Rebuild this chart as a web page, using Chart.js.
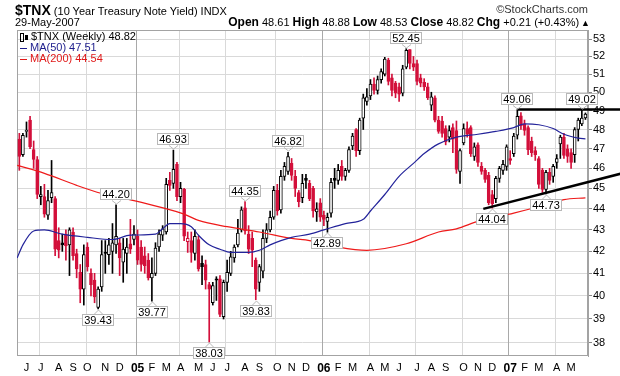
<!DOCTYPE html>
<html><head><meta charset="utf-8">
<script src="https://cdn.jsdelivr.net/npm/chart.js@4.4.1/dist/chart.umd.min.js"></script>
<style>
html,body{margin:0;padding:0;background:#fff;}
#wrap{position:relative;width:620px;height:376px;font-family:"Liberation Sans",Arial,sans-serif;color:#000;overflow:hidden;}
canvas{position:absolute;left:0;top:0;}
.t{position:absolute;white-space:nowrap;line-height:1;}
.t b{font-weight:bold;}
.ico{display:inline-block;vertical-align:middle;}
</style></head><body>
<div id="wrap">
<canvas id="c" width="620" height="376"></canvas>
<div class="t" id="title" style="left:15px;top:2px;"></div>
<div class="t" style="right:32px;top:4px;font-size:11px;color:#333;">©StockCharts.com</div>
<div class="t" id="date" style="left:15px;top:17px;font-size:11px;"></div>
<div class="t" id="ohlc" style="right:30px;top:16px;font-size:11px;"></div>
<div class="t" id="leg1" style="left:20px;top:31px;font-size:11px;"></div>
<div class="t" id="leg2" style="left:20px;top:42px;font-size:11px;color:#1d1d8c;"></div>
<div class="t" id="leg3" style="left:20px;top:53px;font-size:11px;color:#e01818;"></div>
</div>
<script>
// ---------- DATA (weekly candles, first one at the left plot edge) ----------
const opens = [47.5,46.7,47.9,48.5,46.95,46.45,44.6,44.6,43.7,44.55,44.5,42.5,42.4,42.8,42.3,42.9,41.9,41.05,40.3,42.2,
41.0,40.7,39.5,40.4,41.95,41.85,42.0,42.3,42.4,41.5,41.9,42.35,42.55,42.7,42.2,41.8,41.6,40.8,41.0,42.2,
42.75,42.9,45.4,45.25,46.2,44.6,44.95,42.45,42.5,41.9,42.55,41.45,41.4,40.5,39.7,40.75,40.75,39.1,40.6,41.0,
41.7,42.3,43.0,44.05,42.8,42.6,41.6,40.6,41.1,42.6,43.0,43.6,44.9,43.95,45.6,45.85,46.25,45.6,44.8,44.55,
45.5,45.25,45.0,43.85,44.3,43.7,43.4,43.8,45.5,45.4,46.1,45.6,45.9,47.15,48.0,46.9,48.6,49.5,49.8,50.45,
50.1,50.7,51.0,51.8,50.8,50.5,50.3,49.95,51.4,52.4,51.6,51.6,50.8,50.55,50.3,49.3,49.7,48.5,48.45,48.05,
47.6,48.1,47.95,45.85,47.3,48.05,48.1,46.6,47.2,46.1,45.9,45.65,44.7,44.5,45.5,45.9,46.1,46.5,46.75,47.7,
48.72,48.3,48.1,47.4,46.9,46.5,45.9,44.95,45.8,45.6,46.3,47.25,47.6,47.0,46.8,46.7,48.0,48.3,48.61];
const highs = [47.8,47.8,48.4,48.7,47.4,46.6,45.1,45.2,44.9,46.4,44.6,43.1,42.8,43.0,43.1,43.1,42.1,41.4,42.3,42.4,
41.2,41.0,40.4,42.5,42.5,42.6,43.3,44.2,42.6,42.6,42.6,43.5,43.2,43.0,42.5,42.2,41.9,41.7,42.4,43.0,
43.2,45.5,45.8,46.93,46.3,45.3,45.0,42.9,42.9,43.0,42.7,41.8,41.6,40.6,40.6,40.85,40.9,40.7,41.6,42.0,
42.3,43.5,44.1,44.35,43.2,42.9,41.7,41.4,43.0,43.3,43.9,45.1,45.2,45.9,46.3,46.82,46.5,45.9,44.9,45.7,
45.7,45.4,45.1,44.3,44.5,43.9,43.8,45.5,46.0,46.2,46.4,46.0,47.1,47.8,48.05,48.6,49.9,50.2,50.7,50.8,
50.9,51.3,51.95,51.9,51.0,50.6,50.5,51.5,52.45,52.4,52.0,51.8,51.0,50.75,50.5,50.0,49.8,48.7,48.7,48.2,
48.2,48.3,48.45,47.0,48.3,48.4,48.2,47.3,47.3,46.3,46.0,45.8,44.9,45.6,46.1,46.4,47.2,46.9,47.8,49.06,
48.9,48.5,48.2,47.6,47.1,46.6,46.0,45.9,46.0,46.2,46.7,47.7,47.8,47.2,47.0,48.1,48.6,49.02,48.88];
const lows = [45.9,46.6,47.6,47.0,46.0,44.5,44.2,43.6,43.5,44.3,41.8,41.7,42.0,41.6,40.9,41.6,40.8,39.7,39.6,41.1,
40.0,39.7,39.43,40.2,41.0,41.4,41.0,41.9,40.9,40.6,41.0,41.9,42.3,41.4,41.1,41.0,40.7,39.77,40.9,42.0,
42.5,42.8,44.9,45.0,44.4,44.3,42.5,41.95,41.5,41.6,41.1,40.5,40.3,38.03,39.6,39.8,39.1,39.0,40.2,40.9,
41.5,42.2,42.9,42.8,41.9,41.3,39.83,40.2,40.8,42.4,42.9,43.5,43.7,43.8,45.4,45.7,45.4,44.6,44.1,44.3,
45.0,44.4,43.6,43.4,43.4,43.2,42.89,43.6,45.0,45.2,45.4,45.4,45.8,46.95,46.6,46.7,48.0,49.3,49.6,49.9,
49.9,50.5,50.9,50.4,49.8,49.7,49.5,49.8,51.3,51.3,51.2,50.4,50.3,50.1,49.6,49.0,48.4,47.8,47.6,47.2,
47.35,46.8,45.75,45.25,47.2,47.6,46.6,46.4,46.1,45.7,45.3,44.2,44.04,44.3,45.3,45.7,45.9,46.2,46.6,47.5,
48.0,47.7,46.7,46.6,46.4,45.0,44.8,44.73,45.2,45.3,46.0,46.5,46.5,46.3,46.0,46.3,47.4,48.2,48.53];
const closes = [46.6,47.7,47.95,47.1,46.45,44.7,44.7,43.75,44.4,44.8,42.1,42.05,42.3,42.25,43.0,41.8,41.2,40.3,41.85,41.3,
40.5,39.95,40.3,41.85,41.9,42.3,42.4,42.7,41.7,42.1,42.2,42.1,42.8,41.6,41.4,41.35,40.8,41.0,42.15,42.8,
43.05,45.2,45.15,45.95,44.6,45.0,42.7,42.6,41.95,42.7,41.2,41.3,40.7,40.3,40.45,40.7,39.2,40.6,41.05,41.75,
42.2,42.85,43.95,42.95,42.1,42.05,40.3,41.3,42.6,43.0,43.6,44.9,43.9,45.6,46.1,46.6,45.65,45.0,44.35,45.25,
45.4,44.5,43.9,44.0,43.6,43.5,43.6,45.3,45.4,45.9,45.6,45.9,46.95,47.65,46.9,48.5,49.7,49.75,50.45,50.1,
50.7,51.15,51.85,50.6,50.1,49.95,49.9,51.3,52.35,51.6,51.4,50.6,50.5,50.3,49.7,49.75,48.5,47.9,47.8,47.35,
47.95,47.5,45.95,46.9,48.05,47.75,46.75,47.1,46.3,45.85,45.45,44.3,44.25,45.5,46.0,46.2,47.1,46.4,47.65,48.7,
48.2,47.95,46.95,46.8,46.7,45.2,44.95,45.8,45.4,46.1,46.5,47.6,46.65,46.6,46.3,48.0,48.5,48.61,48.82];

// moving averages: [week position, value]
const ma50Pos = [-0.6,1,4,7,12,19,26,31,38,40,42,45,48,50,53,56,59,64,67,70,73,76,81,85,91,96,98,102,106,110,113,117,122,128,133,138,141,145,149,152,156,158];
const ma50Val = [41.7,42.3,42.95,43.0,42.8,42.65,42.55,42.75,42.8,43.05,43.3,43.3,43.15,42.75,42.3,42.1,41.95,41.95,42.05,42.3,42.5,42.65,42.8,43.0,43.3,43.5,43.9,44.7,45.6,46.25,46.75,47.25,47.6,47.75,47.9,48.1,48.3,48.25,48.05,47.75,47.55,47.51];
const ma200Pos = [-0.6,7,16,23,32,39,46,50,58,67,76,81,89,97,108,117,122,128,138,147,152,158];
const ma200Val = [46.15,45.75,45.15,44.75,44.4,44.1,43.75,43.45,43.15,42.9,42.6,42.5,42.2,42.05,42.35,42.9,43.05,43.4,43.8,44.2,44.45,44.54];

// month tick labels (week position of first week of each month)
const tickPos  = [2,6,11,15,19,24,28,33,37,41,45,50,54,58,63,67,72,76,80,85,89,93,98,102,106,111,115,119,124,128,132,137,141,145,150,154];
const tickText = ['J','J','A','S','O','N','D','05','F','M','A','M','J','J','A','S','O','N','D','06','F','M','A','M','J','J','A','S','O','N','D','07','F','M','A','M'];
const quarterPos = [6,19,33,45,58,72,85,98,111,124,137,150];
const yearPos = [33,85,137];
const yTicks = [38,39,40,41,42,43,44,45,46,47,48,49,50,51,52,53];

// annotated highs/lows
const calloutPos  = [22,27,37,43,53,63,66,75,86,108,132,139,147,157];
const calloutVal  = [39.43,44.20,39.77,46.93,38.03,44.35,39.83,46.82,42.89,52.45,44.04,49.06,44.73,49.02];
const calloutSide = ['low','high','low','high','low','high','low','high','low','high','low','high','low','high'];

// drawn trendlines: [week position, value]
const resistLine  = [[139,49.06],[175,49.06]];
const supportLine = [[129.5,44.0],[175,46.06]];

// ---------- HEADER / LEGEND TEXT ----------
const n = closes.length;
const last = n-1;
const chg = closes[last]-closes[last-1];
document.getElementById('title').innerHTML = '<b style="font-size:14px">$TNX</b><span style="font-size:11px"> (10 Year Treasury Note Yield) INDX</span>';
document.getElementById('date').textContent = '29-May-2007';
document.getElementById('ohlc').innerHTML =
  '<b style="font-size:12px">Open</b> '+opens[last].toFixed(2)+' <b style="font-size:12px">High</b> '+highs[last].toFixed(2)+
  ' <b style="font-size:12px">Low</b> '+lows[last].toFixed(2)+' <b style="font-size:12px">Close</b> '+closes[last].toFixed(2)+
  ' <b style="font-size:12px">Chg</b> +'+chg.toFixed(2)+' (+'+(chg/closes[last-1]*100).toFixed(2)+'%)<span style="font-size:9px;margin-left:2px">▲</span>';
document.getElementById('leg1').innerHTML =
  '<span class="ico" style="width:2px;height:7px;border:1px solid #000;margin-right:1px"></span><span class="ico" style="width:3px;height:5px;background:#000;margin-right:3px"></span>$TNX (Weekly) '+closes[last].toFixed(2);
document.getElementById('leg2').innerHTML =
  '<span class="ico" style="width:7px;height:1px;background:#1d1d8c;margin-right:3px"></span>MA(50) '+ma50Val[ma50Val.length-1].toFixed(2);
document.getElementById('leg3').innerHTML =
  '<span class="ico" style="width:7px;height:1px;background:#e01818;margin-right:3px"></span>MA(200) '+ma200Val[ma200Val.length-1].toFixed(2);

// ---------- CHART ----------
const FONT = '"Liberation Sans", Arial, sans-serif';
const RED = '#d3103b', BLK = '#000000';
const colors = closes.map((c,i)=> c >= (i ? closes[i-1] : opens[i]) ? BLK : RED);
const fills  = closes.map((c,i)=> c > opens[i] ? '#ffffff' : colors[i]);
const wickData = highs.map((h,i)=>({x:i, y:[lows[i], h]}));
const bodyData = opens.map((o,i)=>({x:i, y:[Math.min(o,closes[i]), Math.max(o,closes[i])]}));

const frameGrid = {
  id:'frameGrid',
  beforeDatasetsDraw(chart){
    const {ctx, chartArea:a, scales:{x}} = chart;
    ctx.save(); ctx.lineWidth = 1;
    quarterPos.forEach(p=>{
      const px = Math.round(x.getPixelForValue(p-0.5))+0.5;
      ctx.strokeStyle = yearPos.includes(p) ? '#a9a9a9' : '#d9d9d9';
      ctx.beginPath(); ctx.moveTo(px, a.top); ctx.lineTo(px, a.bottom); ctx.stroke();
    });
    ctx.strokeStyle = '#a3a3a3';
    ctx.strokeRect(a.left+0.5, a.top+0.5, a.right-a.left-1, a.bottom-a.top-1);
    ctx.restore();
  }
};
const callouts = {
  id:'callouts',
  afterDraw(chart){
    const {ctx, scales:{x,y}} = chart;
    ctx.save();
    ctx.font = '11px ' + FONT;
    ctx.textAlign = 'center'; ctx.textBaseline = 'middle';
    calloutPos.forEach((p,i)=>{
      const v = calloutVal[i], txt = v.toFixed(2);
      const px = Math.round(x.getPixelForValue(p));
      const py = Math.round(y.getPixelForValue(v));
      const w = Math.ceil(ctx.measureText(txt).width)+4, h = 12;
      const up = calloutSide[i]==='high';
      const bx = Math.round(px - w/2), by = up ? py-5-h : py+5;
      ctx.strokeStyle = '#b8b8b8'; ctx.lineWidth = 1;
      ctx.beginPath();
      if (up){ ctx.moveTo(px-4, by+h+0.5); ctx.lineTo(px+0.5, py-1); ctx.lineTo(px+5, by+h+0.5); }
      else { ctx.moveTo(px-4, by+0.5); ctx.lineTo(px+0.5, py+1); ctx.lineTo(px+5, by+0.5); }
      ctx.stroke();
      ctx.fillStyle = '#fff'; ctx.fillRect(bx, by, w, h);
      ctx.strokeRect(bx+0.5, by+0.5, w-1, h-1);
      ctx.fillStyle = '#000'; ctx.fillText(txt, bx+w/2, by+h/2+0.5);
    });
    ctx.restore();
  }
};

new Chart(document.getElementById('c'), {
  type:'bar',
  data:{ datasets:[
    {type:'line', data:resistLine.map(d=>({x:d[0],y:d[1]})), borderColor:'#000', borderWidth:2.5, pointRadius:0, clip:false, order:0},
    {type:'line', data:supportLine.map(d=>({x:d[0],y:d[1]})), borderColor:'#000', borderWidth:2.5, pointRadius:0, clip:false, order:0},
    {type:'line', data:ma50Pos.map((p,i)=>({x:p,y:ma50Val[i]})), borderColor:'#23239a', borderWidth:1.2, pointRadius:0, cubicInterpolationMode:'monotone', order:1},
    {type:'line', data:ma200Pos.map((p,i)=>({x:p,y:ma200Val[i]})), borderColor:'#ee1a1a', borderWidth:1.2, pointRadius:0, cubicInterpolationMode:'monotone', order:1},
    {type:'bar', data:bodyData, backgroundColor:fills, borderColor:colors, borderWidth:1, borderSkipped:false, barThickness:3, minBarLength:1, grouped:false, order:2},
    {type:'bar', data:wickData, backgroundColor:colors, borderWidth:0, barThickness:1, grouped:false, order:3}
  ]},
  options:{
    responsive:false, animation:false, devicePixelRatio:1,
    layout:{padding:{left:17, top:30, right:0, bottom:0}},
    plugins:{legend:{display:false}, tooltip:{enabled:false}},
    scales:{
      x:{ type:'linear', bounds:'data', min:-0.647, max:158.72, offset:false,
        grid:{display:false, drawTicks:false}, border:{display:false},
        afterBuildTicks:a=>{ a.ticks = tickPos.map(v=>({value:v})); },
        afterFit:a=>{ a.height = 20; },
        ticks:{ autoSkip:false, maxRotation:0, minRotation:0, padding:5, color:'#000',
          callback:v=>{ const k = tickPos.indexOf(v); return k<0 ? '' : tickText[k]; },
          font:c=> (c.tick && yearPos.includes(c.tick.value)) ? {family:FONT, size:12, weight:'bold'} : {family:FONT, size:11} }
      },
      y:{ type:'logarithmic', position:'right', bounds:'data', min:37.45, max:53.53,
        afterBuildTicks:a=>{ a.ticks = yTicks.map(v=>({value:v})); },
        afterFit:a=>{ a.width = 32; },
        grid:{ color:'#d9d9d9', tickLength:4, tickColor:'#888', drawTicks:true },
        border:{ display:true, color:'#a3a3a3' },
        ticks:{ autoSkip:false, padding:1, color:'#000', font:{family:FONT, size:11}, callback:v=>String(v) }
      }
    }
  },
  plugins:[frameGrid, callouts]
});
</script>
</body></html>
